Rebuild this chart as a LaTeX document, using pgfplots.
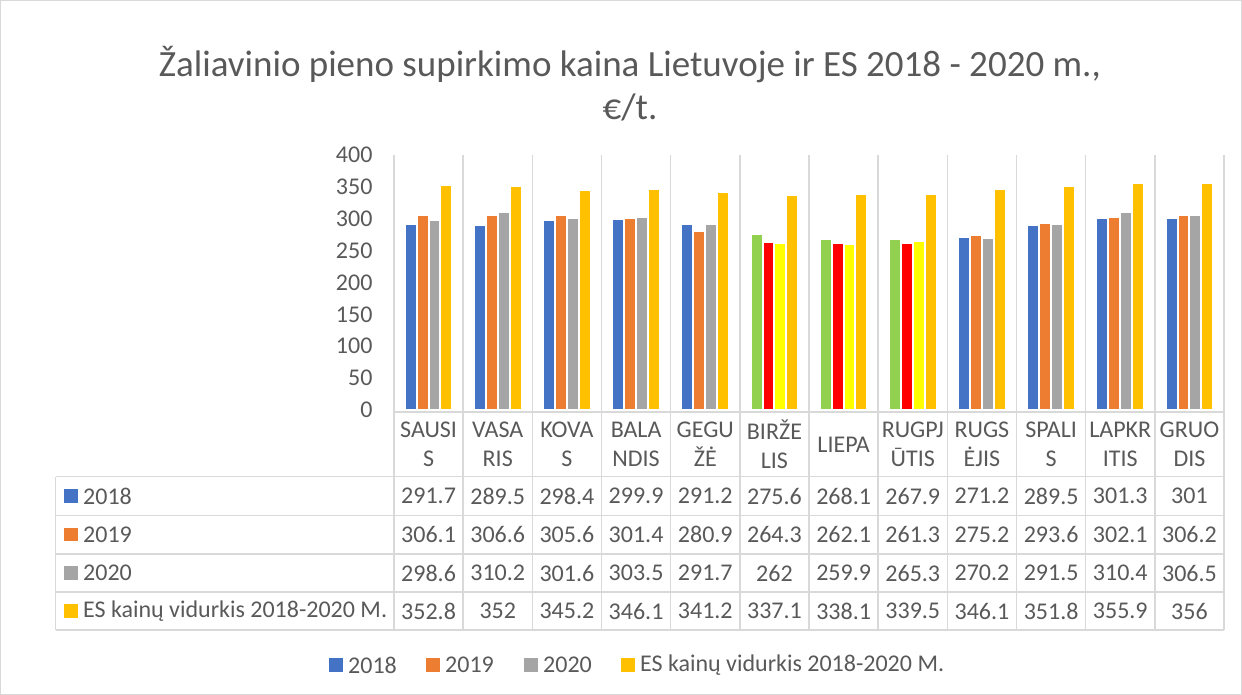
\documentclass[border=0pt]{standalone}
\usepackage{pgfplots}
\pgfplotsset{compat=1.18}
\usepackage{fontspec}
\setmainfont{Carlito}
\definecolor{c18}{HTML}{4472C4}
\definecolor{c19}{HTML}{ED7D31}
\definecolor{c20}{HTML}{A5A5A5}
\definecolor{ces}{HTML}{FFC000}
\definecolor{cgreen}{HTML}{92D050}
\definecolor{cred}{HTML}{FF0000}
\definecolor{cyel}{HTML}{FFFF00}
\definecolor{gridc}{HTML}{D9D9D9}
\definecolor{txt}{HTML}{595959}
\newcommand{\tf}{\fontsize{24}{29}\selectfont}
\begin{document}
\begin{tikzpicture}[x=1pt,y=1pt]
% outer frame
\draw[gridc, line width=1pt] (0.5,0.5) rectangle (1241.5,694.5);
% title
\node[txt, font=\fontsize{37}{43}\selectfont, align=center] at (630,611) {Žaliavinio pieno supirkimo kaina Lietuvoje ir ES 2018 - 2020 m.,\\€/t.};
% vertical grid lines in plot area and table
\foreach \k in {0,...,12}{
  \draw[gridc, line width=1.5pt] ({394+69.17*\k},540) -- ({394+69.17*\k},65);
}
% table horizontal lines
\draw[gridc, line width=1.5pt] (394,283) -- (1224,283);
\foreach \yy in {218.3,179.7,141,103,65}{
  \draw[gridc, line width=1.5pt] (55.7,\yy) -- (1224,\yy);
}
\draw[gridc, line width=1.5pt] (55.7,218.3) -- (55.7,65);
% category labels
\foreach \lab [count=\i from 0] in {SAUSI\\S,VASA\\RIS,KOVA\\S,BALA\\NDIS,GEGU\\ŽĖ,BIRŽE\\LIS,LIEPA,RUGPJ\\ŪTIS,RUGS\\ĖJIS,SPALI\\S,LAPKR\\ITIS,GRUO\\DIS}{
  \node[txt, font=\tf, align=center, inner sep=0pt] at ({394+69.17*(\i+0.5)},250.6) {\lab};
}
% table values
\foreach \v [count=\i from 0] in {291.7,289.5,298.4,299.9,291.2,275.6,268.1,267.9,271.2,289.5,301.3,301}{
  \node[txt, font=\tf, inner sep=0pt] at ({394+69.17*(\i+0.5)},198.9) {\v};}
\foreach \v [count=\i from 0] in {306.1,306.6,305.6,301.4,280.9,264.3,262.1,261.3,275.2,293.6,302.1,306.2}{
  \node[txt, font=\tf, inner sep=0pt] at ({394+69.17*(\i+0.5)},160.3) {\v};}
\foreach \v [count=\i from 0] in {298.6,310.2,301.6,303.5,291.7,262,259.9,265.3,270.2,291.5,310.4,306.5}{
  \node[txt, font=\tf, inner sep=0pt] at ({394+69.17*(\i+0.5)},122) {\v};}
\foreach \v [count=\i from 0] in {352.8,352,345.2,346.1,341.2,337.1,338.1,339.5,346.1,351.8,355.9,356}{
  \node[txt, font=\tf, inner sep=0pt] at ({394+69.17*(\i+0.5)},84) {\v};}
% table row keys
\foreach \c/\t/\yy in {c18/2018/198.9, c19/2019/160.3, c20/2020/122, ces/{ES kainų vidurkis 2018-2020 M.}/84}{
  \fill[\c] (64,\yy-6.8) rectangle +(13.7,13.7);
  \node[txt, font=\tf, anchor=west, inner sep=0pt] at (83,\yy) {\t};
}
% bottom legend
\foreach \c/\t/\xx in {c18/2018/329, c19/2019/426, c20/2020/524, ces/{ES kainų vidurkis 2018-2020 M.}/621}{
  \fill[\c] (\xx,30-6.8) rectangle +(13.7,13.7);
  \node[txt, font=\tf, anchor=west, inner sep=0pt] at (\xx+19,30) {\t};
}
\begin{axis}[at={(394pt,285pt)}, anchor=south west, scale only axis,
  width=830pt, height=255pt,
  xmin=-0.5, xmax=11.5, ymin=0, ymax=400,
  ytick={0,50,...,400}, xtick=\empty,
  axis line style={draw=none}, major tick length=0pt,
  yticklabel style={txt, font=\tf, /pgf/number format/assume math mode=true, xshift=-18pt},
  ybar, bar width=0.172, clip=false]
\addplot[fill=c18, draw=white, line width=2pt, bar shift=-0.258] coordinates {(0,291.7) (1,289.5) (2,298.4) (3,299.9) (4,291.2) (8,271.2) (9,289.5) (10,301.3) (11,301)};
\addplot[fill=cgreen, draw=white, line width=2pt, bar shift=-0.258] coordinates {(5,275.6) (6,268.1) (7,267.9)};
\addplot[fill=c19, draw=white, line width=2pt, bar shift=-0.086] coordinates {(0,306.1) (1,306.6) (2,305.6) (3,301.4) (4,280.9) (8,275.2) (9,293.6) (10,302.1) (11,306.2)};
\addplot[fill=cred, draw=white, line width=2pt, bar shift=-0.086] coordinates {(5,264.3) (6,262.1) (7,261.3)};
\addplot[fill=c20, draw=white, line width=2pt, bar shift=0.086] coordinates {(0,298.6) (1,310.2) (2,301.6) (3,303.5) (4,291.7) (8,270.2) (9,291.5) (10,310.4) (11,306.5)};
\addplot[fill=cyel, draw=white, line width=2pt, bar shift=0.086] coordinates {(5,262) (6,259.9) (7,265.3)};
\addplot[fill=ces, draw=white, line width=2pt, bar shift=0.258] coordinates {(0,352.8) (1,352) (2,345.2) (3,346.1) (4,341.2) (5,337.1) (6,338.1) (7,339.5) (8,346.1) (9,351.8) (10,355.9) (11,356)};
\end{axis}
\end{tikzpicture}
\end{document}
